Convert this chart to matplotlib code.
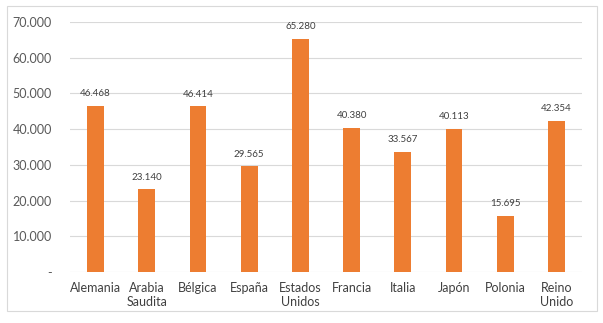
import matplotlib.pyplot as plt
from matplotlib.patches import Rectangle

paises = ['Alemania', 'Arabia\nSaudita', 'Bélgica', 'España', 'Estados\nUnidos',
          'Francia', 'Italia', 'Japón', 'Polonia', 'Reino\nUnido']
valores = [46468, 23140, 46414, 29565, 65280, 40380, 33567, 40113, 15695, 42354]
ticks = [0, 10000, 20000, 30000, 40000, 50000, 60000, 70000]

def miles(v):
    return '-' if v == 0 else f'{v:,.0f}'.replace(',', '.')

plt.rcParams['font.family'] = ['Lato', 'DejaVu Sans']
gris = '#595959'

fig = plt.figure(figsize=(6.03, 3.23), dpi=100)
ax = fig.add_axes([70/603, 1 - 272/323, 512/603, 250/323])

x = range(len(paises))
ax.bar(x, valores, width=0.33, color='#ED7D31', zorder=3)
for i, v in zip(x, valores):
    ax.annotate(miles(v), (i, v), xytext=(0, 5.5), textcoords='offset points',
                ha='center', va='bottom', fontsize=7, color='#404040')

ax.set_xlim(-0.5, len(paises) - 0.5)
ax.set_ylim(0, 70000)
ax.set_yticks(ticks)
ax.set_yticklabels([miles(t) for t in ticks], fontsize=9, color=gris)
ax.set_xticks(list(x))
ax.set_xticklabels(paises, fontsize=9, color='#404040', linespacing=1.25)
ax.tick_params(axis='y', length=0, pad=13)
ax.tick_params(axis='x', length=0, pad=7)
ax.grid(axis='y', color='#D9D9D9', linewidth=0.8, zorder=0)
for s in ax.spines.values():
    s.set_visible(False)

fig.patches.append(Rectangle((7/603, 1 - 311/323), 590/603, 305/323,
                             transform=fig.transFigure, fill=False,
                             edgecolor='#D9D9D9', linewidth=0.8))

fig.savefig('out.png', dpi=100)
